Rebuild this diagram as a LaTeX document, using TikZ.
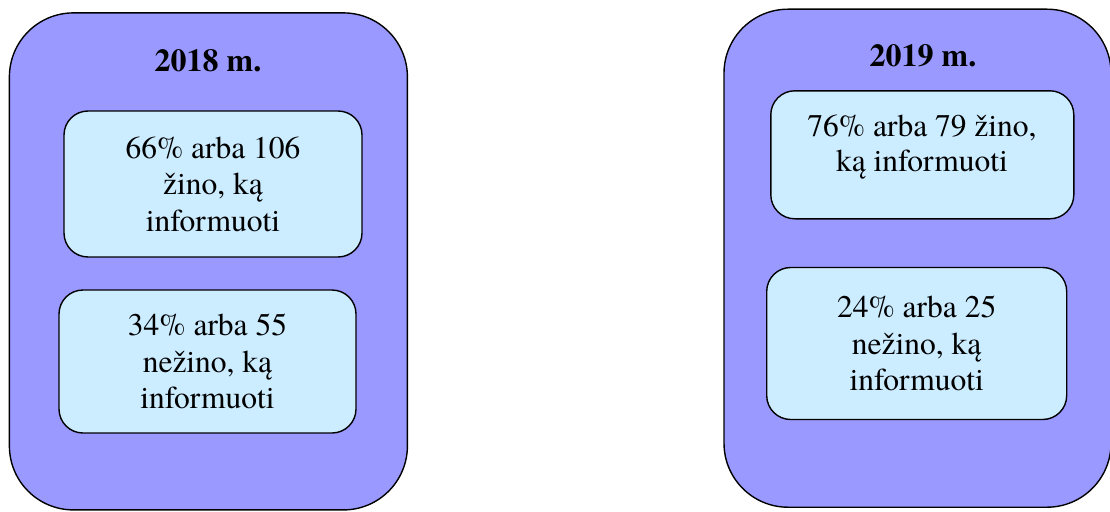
\documentclass[tikz,border=0pt]{standalone}
\usepackage{fontspec}
\setmainfont{texgyretermes-regular.otf}[BoldFont=texgyretermes-bold.otf]
\definecolor{outerfill}{RGB}{153,153,255}
\definecolor{innerfill}{RGB}{204,236,255}
\begin{document}
\begin{tikzpicture}[x=1pt,y=-1pt,
  outerbox/.style={draw=black,line width=1.4pt,fill=outerfill,rounded corners=64pt,inner sep=0pt},
  innerbox/.style={draw=black,line width=1.4pt,fill=innerfill,rounded corners=24pt,inner sep=0pt,
     align=center,font=\fontsize{31.5}{36.5}\selectfont},
  titletext/.style={font=\fontsize{32}{38}\selectfont\bfseries,inner sep=0pt,anchor=base}]
\useasboundingbox (0,0) rectangle (1110,511);
% left group
\node[outerbox,minimum width=398pt,minimum height=497pt] (L) at (208.4,261.4) {};
\node[titletext] (Lt) at (208,71.7) {2018 m.};
\node[innerbox,minimum width=298pt,minimum height=146pt] (L1) at (213,184) {66\% arba 106\\žino, ką\\informuoti};
\node[innerbox,minimum width=297pt,minimum height=143pt] (L2) at (207.5,361.5) {34\% arba 55\\nežino, ką\\informuoti};
% right group
\node[outerbox,minimum width=387pt,minimum height=498pt] (R) at (917.5,258.2) {};
\node[titletext] (Rt) at (923,66.7) {2019 m.};
\node[innerbox,minimum width=303pt,minimum height=128pt] (R1) at (922.3,154.8) {};
\node[font=\fontsize{31.5}{35}\selectfont,align=center,inner sep=0pt] (R1t) at (922,147.5) {76\% arba 79 žino,\\ką informuoti};
\node[innerbox,minimum width=300pt,minimum height=152pt] (R2) at (916.7,343.5) {24\% arba 25\\nežino, ką\\informuoti};
\end{tikzpicture}
\end{document}
